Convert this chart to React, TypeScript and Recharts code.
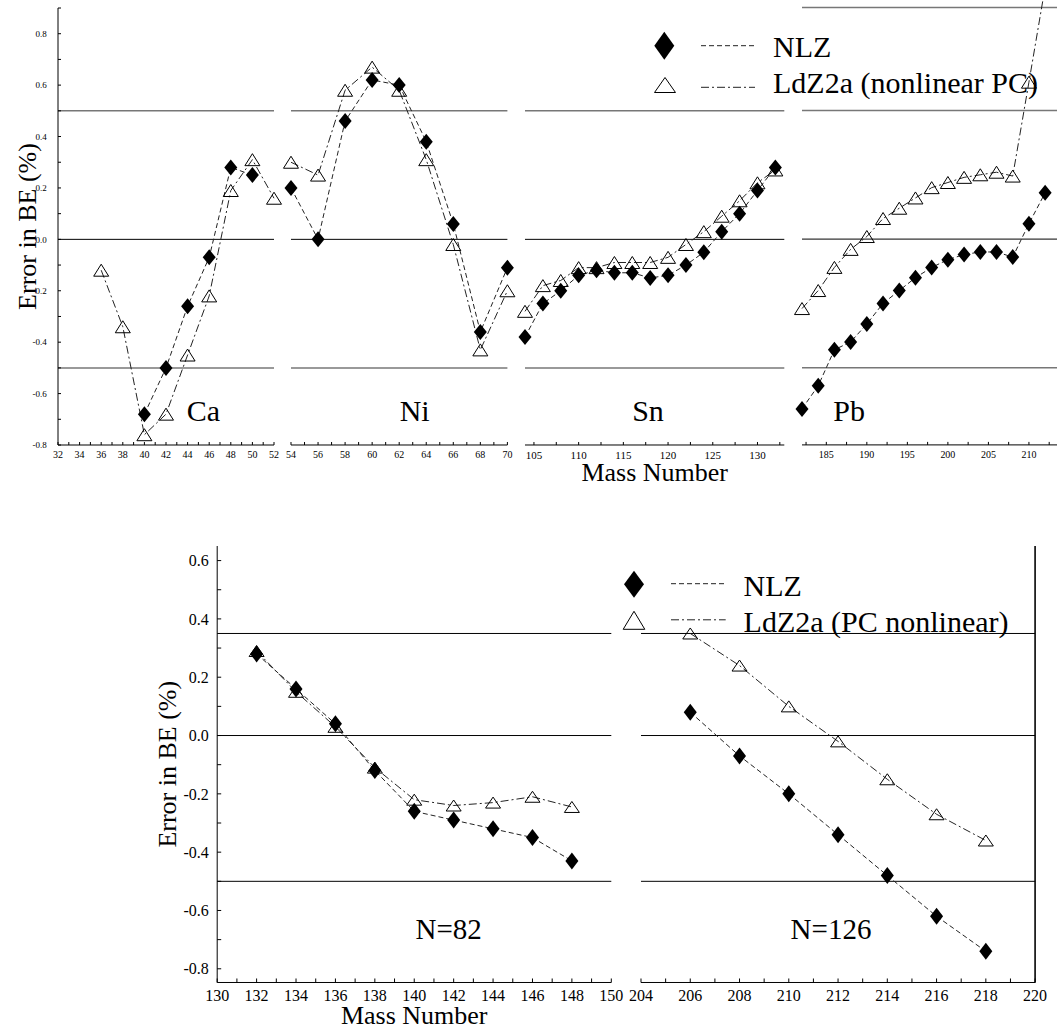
import React from "react"
import { LineChart, Line, XAxis, YAxis, ReferenceLine, Legend } from "recharts"

const SERIF = '"Liberation Serif", "Times New Roman", Times, serif'

// Ca
const caNlzMass = [40, 42, 44, 46, 48, 50]
const caNlzErr = [-0.68, -0.5, -0.26, -0.07, 0.28, 0.25]
const caLdzMass = [36, 38, 40, 42, 44, 46, 48, 50, 52]
const caLdzErr = [-0.12, -0.34, -0.76, -0.68, -0.45, -0.22, 0.19, 0.31, 0.16]

// Ni
const niMass = [54, 56, 58, 60, 62, 64, 66, 68, 70]
const niNlzErr = [0.2, 0.0, 0.46, 0.62, 0.6, 0.38, 0.06, -0.36, -0.11]
const niLdzErr = [0.3, 0.25, 0.58, 0.67, 0.58, 0.31, -0.02, -0.43, -0.2]

// Sn
const snMass = [104, 106, 108, 110, 112, 114, 116, 118, 120, 122, 124, 126, 128, 130, 132]
const snNlzErr = [-0.38, -0.25, -0.2, -0.14, -0.12, -0.13, -0.13, -0.15, -0.14, -0.1, -0.05, 0.03, 0.1, 0.19, 0.28]
const snLdzErr = [-0.28, -0.18, -0.16, -0.11, -0.11, -0.09, -0.09, -0.09, -0.07, -0.02, 0.03, 0.09, 0.15, 0.22, 0.27]

// Pb
const pbMass = [182, 184, 186, 188, 190, 192, 194, 196, 198, 200, 202, 204, 206, 208, 210, 212]
const pbNlzErr = [-0.66, -0.57, -0.43, -0.4, -0.33, -0.25, -0.2, -0.15, -0.11, -0.08, -0.06, -0.05, -0.05, -0.07, 0.06, 0.18]
const pbLdzErr = [-0.27, -0.2, -0.11, -0.04, 0.01, 0.08, 0.12, 0.16, 0.2, 0.22, 0.24, 0.25, 0.26, 0.245, 0.61, 0.98]

// N=82
const n82Mass = [132, 134, 136, 138, 140, 142, 144, 146, 148]
const n82NlzErr = [0.28, 0.16, 0.04, -0.12, -0.26, -0.29, -0.32, -0.35, -0.43]
const n82LdzErr = [0.29, 0.15, 0.03, -0.11, -0.22, -0.24, -0.23, -0.21, -0.245]

// N=126
const n126Mass = [206, 208, 210, 212, 214, 216, 218]
const n126NlzErr = [0.08, -0.07, -0.2, -0.34, -0.48, -0.62, -0.74]
const n126LdzErr = [0.35, 0.24, 0.1, -0.02, -0.15, -0.27, -0.36]

// tick labels
const caLabels = [32, 34, 36, 38, 40, 42, 44, 46, 48, 50, 52]
const niLabels = [54, 56, 58, 60, 62, 64, 66, 68, 70]
const snLabels = [105, 110, 115, 120, 125, 130]
const pbLabels = [185, 190, 195, 200, 205, 210]
const n82Labels = [130, 132, 134, 136, 138, 140, 142, 144, 146, 148, 150]
const n126Labels = [204, 206, 208, 210, 212, 214, 216, 218, 220]
const topYLabels = [-0.8, -0.6, -0.4, -0.2, 0, 0.2, 0.4, 0.6, 0.8]
const botYLabels = [-0.8, -0.6, -0.4, -0.2, 0, 0.2, 0.4, 0.6]

const range = (a: number, b: number, s: number) => {
  const out: number[] = []
  for (let v = a; v <= b + 1e-9; v += s) out.push(Math.round(v * 1000) / 1000)
  return out
}

const pts = (mass: number[], err: number[]) => mass.map((m, i) => ({ m, e: err[i] }))

const has = (list: number[], v: number) => list.some((l) => Math.abs(l - v) < 1e-6)
const xFmt = (labels: number[]) => (v: number) => (has(labels, v) ? String(v) : "")
const yFmt = (labels: number[]) => (v: number) =>
  has(labels, v) ? (Math.abs(v) < 1e-9 ? "0.0" : v.toFixed(1)) : ""

const diamondPath = (cx: number, cy: number, w: number, h: number) =>
  `M${cx},${cy - h / 2}L${cx + w / 2},${cy}L${cx},${cy + h / 2}L${cx - w / 2},${cy}Z`
const trianglePath = (cx: number, cy: number, w: number, h: number) =>
  `M${cx},${cy - h / 2}L${cx + w / 2},${cy + h / 2}L${cx - w / 2},${cy + h / 2}Z`

const diamondDot = (w: number, h: number) => (p: any) => {
  const { cx, cy, index } = p
  if (cx == null || cy == null) return <g key={`d${index}`} />
  return <path key={`d${index}`} d={diamondPath(cx, cy, w, h)} fill="#000" />
}
const triangleDot = (w: number, h: number) => (p: any) => {
  const { cx, cy, index } = p
  if (cx == null || cy == null) return <g key={`t${index}`} />
  return <path key={`t${index}`} d={trianglePath(cx, cy, w, h)} fill="none" stroke="#000" strokeWidth={1} />
}

const NLZ_DASH = "5 3"
const LDZ_DASH = "8 3 2 3"
const PAD = 15 // room around each plot so edge labels and markers are not cut

interface PanelProps {
  plotLeft: number
  top: number
  plotW: number
  plotH: number
  marginTop: number
  xAxisH: number
  yAxisW?: number
  xDomain: [number, number]
  xTicks: number[]
  xLabels: number[]
  xFont: number
  xTickMargin: number
  yDomain: [number, number]
  yTicks: number[]
  yLabels: number[]
  yFont: number
  yTickMargin: number
  tick: number
  refLines: { y: number; stroke: string; width: number }[]
  topBorder?: string
  rightBorder?: boolean
  nlz: { m: number; e: number }[]
  ldz: { m: number; e: number }[]
  dia: [number, number]
  tri: [number, number]
  xTitle?: string
  xTitleOffset?: number
  yTitle?: string
  legend?: React.ReactNode
}

function Panel(p: PanelProps) {
  const yW = p.yAxisW ?? 0
  const rW = p.rightBorder ? 1 : 0
  const ax = { stroke: "#000", strokeWidth: 1 }
  return (
    <div style={{ position: "absolute", left: p.plotLeft - yW - PAD, top: p.top }}>
      <LineChart
        width={PAD + yW + p.plotW + rW + PAD}
        height={p.marginTop + p.plotH + p.xAxisH}
        margin={{ top: p.marginTop, right: PAD, bottom: 0, left: PAD }}
      >
        <XAxis
          type="number"
          dataKey="m"
          domain={p.xDomain}
          ticks={p.xTicks}
          interval={0}
          tickFormatter={xFmt(p.xLabels)}
          tickSize={-p.tick}
          tickMargin={p.xTickMargin}
          tick={{ fontSize: p.xFont, fill: "#000", fontFamily: SERIF }}
          tickLine={ax}
          axisLine={ax}
          height={p.xAxisH}
          label={
            p.xTitle
              ? { value: p.xTitle, position: "insideBottom", offset: p.xTitleOffset ?? 4, fontSize: 26, fill: "#000", fontFamily: SERIF }
              : undefined
          }
        />
        {p.topBorder && (
          <XAxis
            xAxisId="t"
            orientation="top"
            type="number"
            domain={p.xDomain}
            allowDataOverflow
            ticks={p.xTicks}
            interval={0}
            tick={false}
            tickSize={-p.tick}
            height={0}
            axisLine={{ stroke: p.topBorder, strokeWidth: 1.5 }}
            tickLine={ax}
          />
        )}
        <YAxis
          type="number"
          domain={p.yDomain}
          ticks={p.yTicks}
          interval={0}
          hide={yW === 0}
          width={yW}
          tickFormatter={yFmt(p.yLabels)}
          tickSize={-p.tick}
          tickMargin={p.yTickMargin}
          tick={{ fontSize: p.yFont, fill: "#000", fontFamily: SERIF }}
          tickLine={ax}
          axisLine={ax}
          label={
            p.yTitle
              ? { value: p.yTitle, angle: -90, position: "center", fontSize: 26, fill: "#000", fontFamily: SERIF }
              : undefined
          }
        />
        {p.rightBorder && (
          <YAxis
            yAxisId="r"
            orientation="right"
            type="number"
            domain={p.yDomain}
            allowDataOverflow
            ticks={p.yTicks}
            interval={0}
            tick={false}
            tickSize={-p.tick}
            width={rW}
            axisLine={ax}
            tickLine={ax}
          />
        )}
        {p.rightBorder && (
          <ReferenceLine
            segment={[
              { x: p.xDomain[1], y: p.yDomain[0] },
              { x: p.xDomain[1], y: p.yDomain[1] },
            ]}
            stroke="#000"
            strokeWidth={1.2}
            ifOverflow="visible"
          />
        )}
        {p.refLines.map((r) => (
          <ReferenceLine key={r.y} y={r.y} stroke={r.stroke} strokeWidth={r.width} />
        ))}
        <Line
          data={p.ldz}
          dataKey="e"
          stroke="#222"
          strokeWidth={1}
          strokeDasharray={LDZ_DASH}
          dot={triangleDot(p.tri[0], p.tri[1])}
          activeDot={false}
          isAnimationActive={false}
        />
        <Line
          data={p.nlz}
          dataKey="e"
          stroke="#222"
          strokeWidth={1}
          strokeDasharray={NLZ_DASH}
          dot={diamondDot(p.dia[0], p.dia[1])}
          activeDot={false}
          isAnimationActive={false}
        />
        {p.legend}
      </LineChart>
    </div>
  )
}

const legendText = { fontSize: 30, fontFamily: SERIF, fill: "#000" }

const TopLegend = () => (
  <svg width={420} height={90} style={{ display: "block", overflow: "visible" }}>
    <path d={diamondPath(24.3, 25.8, 20, 28)} fill="#000" />
    <line x1={61} y1={25.7} x2={115} y2={25.7} stroke="#222" strokeDasharray={NLZ_DASH} />
    <text x={133} y={37.3} {...legendText}>NLZ</text>
    <path d={trianglePath(25, 65, 21, 15)} fill="none" stroke="#000" />
    <line x1={61} y1={67.3} x2={115} y2={67.3} stroke="#222" strokeDasharray={LDZ_DASH} />
    <text x={133} y={73.3} {...legendText}>LdZ2a (nonlinear PC)</text>
  </svg>
)

const BottomLegend = () => (
  <svg width={440} height={80} style={{ display: "block", overflow: "visible" }}>
    <path d={diamondPath(24, 24.3, 20, 27)} fill="#000" />
    <line x1={61} y1={23.7} x2={115.7} y2={23.7} stroke="#222" strokeDasharray={NLZ_DASH} />
    <text x={133.6} y={35.5} {...legendText}>NLZ</text>
    <path d={trianglePath(24, 60.3, 21.6, 18)} fill="none" stroke="#000" />
    <line x1={61} y1={59.8} x2={115.7} y2={59.8} stroke="#222" strokeDasharray={LDZ_DASH} />
    <text x={133.6} y={71.6} {...legendText}>LdZ2a (PC nonlinear)</text>
  </svg>
)

const topYTicks = range(-0.8, 0.9, 0.1)
const botYTicks = range(-0.8, 0.6, 0.1)

const topRef = [
  { y: 0.5, stroke: "#777", width: 1.5 },
  { y: 0, stroke: "#000", width: 1 },
  { y: -0.5, stroke: "#777", width: 1.5 },
]
const botRef = [
  { y: 0.35, stroke: "#000", width: 1 },
  { y: 0, stroke: "#000", width: 1 },
  { y: -0.5, stroke: "#000", width: 1 },
]

const topCommon = {
  top: 0,
  marginTop: 8,
  plotH: 437,
  xAxisH: 50,
  xTickMargin: 9,
  yDomain: [-0.8, 0.9] as [number, number],
  yTicks: topYTicks,
  yLabels: topYLabels,
  yFont: 9,
  yTickMargin: 14.3,
  tick: 3,
  refLines: topRef,
  topBorder: "#777",
  dia: [13, 16] as [number, number],
  tri: [15, 12] as [number, number],
}

const botCommon = {
  top: 500,
  marginTop: 46,
  plotH: 436.5,
  xAxisH: 46.5,
  plotW: 394.1,
  xFont: 16,
  xTickMargin: 11,
  yDomain: [-0.847, 0.65] as [number, number],
  yTicks: botYTicks,
  yLabels: botYLabels,
  yFont: 16,
  yTickMargin: 12.4,
  tick: 4,
  refLines: botRef,
  topBorder: "#333",
  dia: [13, 17] as [number, number],
  tri: [15, 11] as [number, number],
}

export default function App() {
  return (
    <div
      style={{
        position: "absolute",
        left: 0,
        top: 0,
        width: 1057,
        height: 1029,
        overflow: "hidden",
        background: "#fff",
        fontFamily: SERIF,
      }}
    >
      <Panel
        {...topCommon}
        plotLeft={58}
        yAxisW={62}
        plotW={216}
        xDomain={[32, 52]}
        xTicks={range(32, 52, 1)}
        xLabels={caLabels}
        xFont={10}
        yTitle="Error in BE (%)"
        nlz={pts(caNlzMass, caNlzErr)}
        ldz={pts(caLdzMass, caLdzErr)}
      />
      <Panel
        {...topCommon}
        plotLeft={291.3}
        plotW={216.4}
        xDomain={[54, 70]}
        xTicks={range(54, 70, 1)}
        xLabels={niLabels}
        xFont={10}
        nlz={pts(niMass, niNlzErr)}
        ldz={pts(niMass, niLdzErr)}
      />
      <Panel
        {...topCommon}
        plotLeft={525}
        plotW={259.3}
        xDomain={[104, 133]}
        xTicks={range(105, 132.5, 2.5)}
        xLabels={snLabels}
        xFont={11}
        xTitle="Mass Number"
        xTitleOffset={14}
        nlz={pts(snMass, snNlzErr)}
        ldz={pts(snMass, snLdzErr)}
        legend={
          <Legend
            layout="vertical"
            align="center"
            verticalAlign="middle"
            wrapperStyle={{ left: 130, top: 20, width: 420, height: 90 }}
            content={() => <TopLegend />}
          />
        }
      />
      <Panel
        {...topCommon}
        top={-12.9}
        marginTop={0}
        plotH={457.9}
        plotLeft={801.7}
        plotW={255.3}
        yDomain={[-0.8, 0.98]}
        topBorder={undefined}
        refLines={[{ y: 0.9, stroke: "#777", width: 1.5 }, ...topRef]}
        xDomain={[182, 213.5]}
        xTicks={range(182.5, 212.5, 2.5)}
        xLabels={pbLabels}
        xFont={10}
        nlz={pts(pbMass, pbNlzErr)}
        ldz={pts(pbMass, pbLdzErr)}
      />

      <Panel
        {...botCommon}
        plotLeft={217.6}
        yAxisW={101.2}
        xDomain={[130, 150]}
        xTicks={range(130, 150, 1)}
        xLabels={n82Labels}
        xTitle="Mass Number"
        xTitleOffset={4.7}
        yTitle="Error in BE (%)"
        nlz={pts(n82Mass, n82NlzErr)}
        ldz={pts(n82Mass, n82LdzErr)}
      />
      <Panel
        {...botCommon}
        plotLeft={641.4}
        rightBorder
        xDomain={[204, 220]}
        xTicks={range(204, 220, 1)}
        xLabels={n126Labels}
        nlz={pts(n126Mass, n126NlzErr)}
        ldz={pts(n126Mass, n126LdzErr)}
        legend={
          <Legend
            layout="vertical"
            align="center"
            verticalAlign="middle"
            wrapperStyle={{ left: -16.4, top: 60, width: 440, height: 80 }}
            content={() => <BottomLegend />}
          />
        }
      />

      <svg
        width={1057}
        height={1029}
        style={{ position: "absolute", left: 0, top: 0, pointerEvents: "none" }}
      >
        <g fontFamily={SERIF} fontSize={30} fill="#000" textAnchor="middle">
          <text x={203.3} y={420.7}>Ca</text>
          <text x={414.7} y={420.7}>Ni</text>
          <text x={648} y={420.7}>Sn</text>
          <text x={849.2} y={420.7}>Pb</text>
          <text x={448.7} y={939} fontSize={29}>N=82</text>
          <text x={831} y={938.6} fontSize={29}>N=126</text>
        </g>
      </svg>
    </div>
  )
}
